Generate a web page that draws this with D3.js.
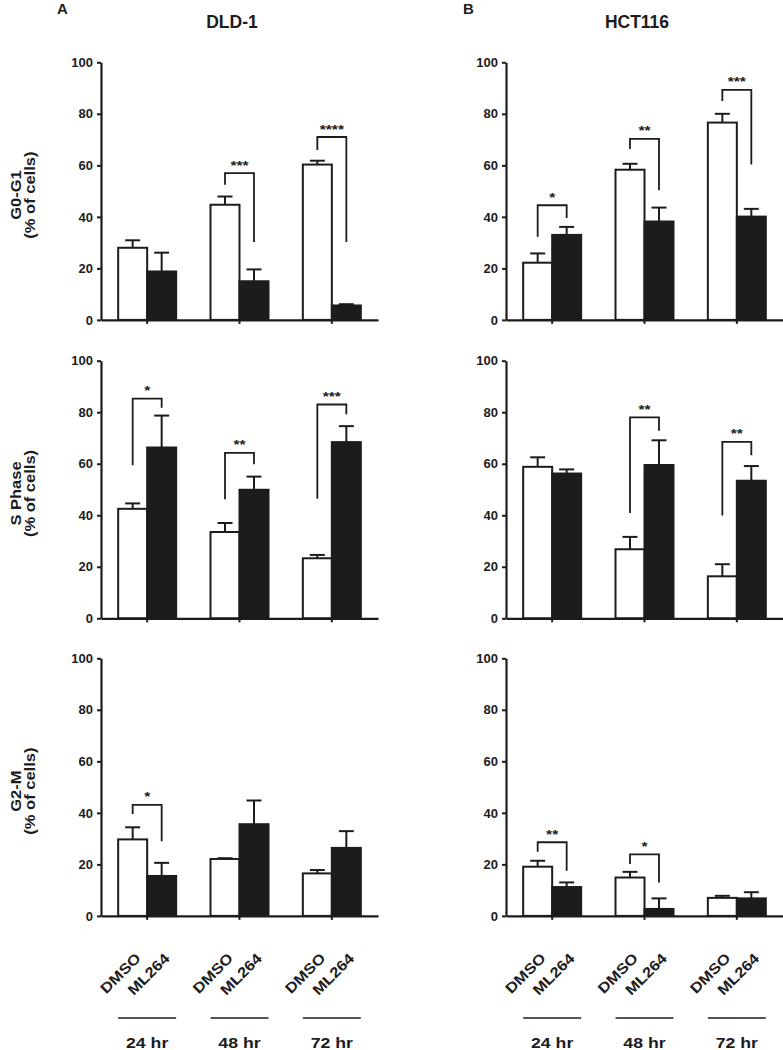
<!DOCTYPE html>
<html>
<head>
<meta charset="utf-8">
<script src="https://cdn.jsdelivr.net/npm/d3@7"></script>
<style>
  html, body { margin: 0; padding: 0; background: #fff; }
  text { font-family: "Liberation Sans", Arial, Helvetica, sans-serif; font-weight: bold; fill: #1c1c1c; }
</style>
</head>
<body>
<script>
// ---------------- data ----------------
const cellLines = ["DLD-1", "HCT116"];
const panelLetters = ["A", "B"];
const phases = ["G0-G1", "S Phase", "G2-M"];
const groups = ["24 hr", "48 hr", "72 hr"];
const treatments = ["DMSO", "ML264"];
const yTicks = [0, 20, 40, 60, 80, 100];

// rows = phases (G0-G1, S Phase, G2-M), columns = groups (24, 48, 72 hr)
const dld1DmsoMean  = [[28.0, 44.7, 60.3], [42.5, 33.5, 23.3], [29.7, 22.1, 16.5]];
const dld1DmsoErr   = [[2.9, 3.2, 1.5],    [2.1, 3.5, 1.3],    [4.7, 0.3, 1.3]];
const dld1Ml264Mean = [[18.8, 15.0, 5.6],  [66.3, 49.9, 68.4], [15.5, 35.6, 26.4]];
const dld1Ml264Err  = [[7.3, 4.6, 0.5],    [12.4, 5.1, 6.2],   [5.1, 9.2, 6.5]];

const hctDmsoMean   = [[22.2, 58.3, 76.6], [58.8, 26.8, 16.3], [19.1, 14.9, 7.0]];
const hctDmsoErr    = [[3.6, 2.3, 3.4],    [3.7, 4.8, 4.7],    [2.3, 2.2, 0.8]];
const hctMl264Mean  = [[33.0, 38.2, 40.1], [56.2, 59.5, 53.4], [11.2, 2.7, 6.8]];
const hctMl264Err   = [[3.1, 5.4, 3.0],    [1.6, 9.6, 5.7],    [1.8, 4.1, 2.4]];

// significance brackets: [phaseIndex, groupIndex, top, leftLegEnd, rightLegEnd, label]
const dld1Brackets = [
  [0, 1, 57.0, 52.5, 30.2, "***"],
  [0, 2, 71.0, 66.0, 30.2, "****"],
  [1, 0, 85.3, 59.4, 81.7, "*"],
  [1, 1, 64.2, 46.2, 59.8, "**"],
  [1, 2, 83.0, 46.4, 79.2, "***"],
  [2, 0, 43.1, 39.6, 29.0, "*"]
];
const hctBrackets = [
  [0, 0, 44.5, 32.3, 39.6, "*"],
  [0, 1, 70.3, 66.3, 50.3, "**"],
  [0, 2, 89.3, 85.0, 60.3, "***"],
  [1, 1, 78.0, 40.9, 72.8, "**"],
  [1, 2, 68.5, 39.9, 63.3, "**"],
  [2, 0, 28.6, 24.9, 17.5, "**"],
  [2, 1, 23.9, 20.1, 13.0, "*"]
];

const panelData = [
  { dm: dld1DmsoMean, de: dld1DmsoErr, mm: dld1Ml264Mean, me: dld1Ml264Err, br: dld1Brackets },
  { dm: hctDmsoMean, de: hctDmsoErr, mm: hctMl264Mean, me: hctMl264Err, br: hctBrackets }
];

// ---------------- layout ----------------
const INK = "#1c1c1c";
const colX = [101, 506];
const plotW = 277;
const rowTop = [62.3, 360.7, 658.3];
const plotH = 257.6;

const svg = d3.select("body").append("svg")
  .attr("width", 783).attr("height", 1050)
  .style("display", "block");
svg.append("rect").attr("width", 783).attr("height", 1050).attr("fill", "#fff");

// titles
cellLines.forEach((name, c) => {
  svg.append("text").attr("x", colX[c] + 131).attr("y", 27.5)
    .attr("text-anchor", "middle").style("font-size", "17.5px").text(name);
  svg.append("text").attr("x", c === 0 ? 57 : 463).attr("y", 14)
    .style("font-size", "15px").text(panelLetters[c]);
});

phases.forEach((phase, r) => {
  const yTop = rowTop[r];
  const y = d3.scaleLinear().domain([0, 100]).range([yTop + plotH, yTop]);
  const yMid = yTop + plotH / 2 + 4;

  // y title (left column only)
  const gt = svg.append("g").attr("transform", `translate(0,${yMid})`);
  gt.append("text").attr("transform", "translate(21,0) rotate(-90) scale(1.18,1)")
    .attr("text-anchor", "middle").style("font-size", "14px").text(phase);
  gt.append("text").attr("transform", "translate(35,0) rotate(-90) scale(1.18,1)")
    .attr("text-anchor", "middle").style("font-size", "14px").text("(% of cells)");

  cellLines.forEach((cl, c) => {
    const x0 = colX[c];
    const pd = panelData[c];
    const xg = d3.scaleBand().domain(groups).range([x0, x0 + plotW])
      .paddingInner(0.372).paddingOuter(0.186);
    const xs = d3.scaleBand().domain(treatments).range([0, xg.bandwidth()]);
    const g = svg.append("g");

    // bars
    groups.forEach((grp, gi) => {
      treatments.forEach((t, ti) => {
        const v = ti === 0 ? pd.dm[r][gi] : pd.mm[r][gi];
        const e = ti === 0 ? pd.de[r][gi] : pd.me[r][gi];
        const bx = xg(grp) + xs(t);
        const cx = bx + xs.bandwidth() / 2;
        // error bar (upward)
        g.append("line").attr("x1", cx).attr("x2", cx)
          .attr("y1", y(v)).attr("y2", y(v + e))
          .attr("stroke", INK).attr("stroke-width", 2);
        g.append("line").attr("x1", cx - 7.5).attr("x2", cx + 7.5)
          .attr("y1", y(v + e)).attr("y2", y(v + e))
          .attr("stroke", INK).attr("stroke-width", 2);
        g.append("rect").attr("x", bx).attr("width", xs.bandwidth())
          .attr("y", y(v)).attr("height", y(0) - y(v))
          .attr("fill", ti === 0 ? "#fff" : INK)
          .attr("stroke", INK).attr("stroke-width", 2);
      });
    });

    // significance brackets
    pd.br.filter(b => b[0] === r).forEach(b => {
      const grp = groups[b[1]];
      const lx = xg(grp) + xs("DMSO") + xs.bandwidth() / 2;
      const rx = xg(grp) + xs("ML264") + xs.bandwidth() / 2;
      g.append("path")
        .attr("d", `M${lx},${y(b[3])}V${y(b[2])}H${rx}V${y(b[4])}`)
        .attr("fill", "none").attr("stroke", INK).attr("stroke-width", 1.8);
      g.append("text")
        .attr("transform", `translate(${(lx + rx) / 2},${y(b[2]) - 3.5}) scale(1.2,1)`)
        .attr("text-anchor", "middle").style("font-size", "13px").text(b[5]);
    });

    // y axis
    const ya = g.append("g").attr("transform", `translate(${x0},0)`)
      .call(d3.axisLeft(y).tickValues(yTicks).tickSize(4).tickSizeOuter(0).tickPadding(4));
    ya.select(".domain").attr("stroke", INK).attr("stroke-width", 2.2);
    ya.selectAll(".tick line").attr("stroke", INK).attr("stroke-width", 2);
    ya.selectAll(".tick text").style("font-size", "13px")
      .style("font-family", '"Liberation Sans", Arial, sans-serif').attr("fill", INK)
      .attr("font-weight", "bold");

    // x axis
    const xa = g.append("g").attr("transform", `translate(0,${y(0)})`)
      .call(d3.axisBottom(xg).tickSize(4).tickSizeOuter(0).tickFormat(""));
    xa.select(".domain").attr("stroke", INK).attr("stroke-width", 2.2);
    xa.selectAll(".tick line").attr("stroke", INK).attr("stroke-width", 2);

    // bottom labels (last row only)
    if (r === phases.length - 1) {
      groups.forEach(grp => {
        treatments.forEach(t => {
          const cx = xg(grp) + xs(t) + xs.bandwidth() / 2;
          let ax = cx + 10, ay = y(0) + 43;
          const lab = g.append("text")
            .attr("text-anchor", "end").style("font-size", "14.5px").text(t);
          const place = () => lab.attr("transform",
            `translate(${ax},${ay}) rotate(-45) scale(1.15,1)`);
          place();
          // align the rendered label box: right edge ~cx+11, top ~axis+34
          const bb = lab.node().getBoundingClientRect();
          const svgBB = svg.node().getBoundingClientRect();
          const right = bb.right - svgBB.left, top = bb.top - svgBB.top;
          ax += (cx + 11) - right;
          ay += (y(0) + 34) - top;
          place();
        });
        g.append("line").attr("x1", xg(grp)).attr("x2", xg(grp) + xg.bandwidth())
          .attr("y1", 1018).attr("y2", 1018).attr("stroke", INK).attr("stroke-width", 1.6);
        g.append("text")
          .attr("transform", `translate(${xg(grp) + xg.bandwidth() / 2},1048) scale(1.18,1)`)
          .attr("text-anchor", "middle").style("font-size", "15px").text(grp);
      });
    }
  });
});
</script>
</body>
</html>
